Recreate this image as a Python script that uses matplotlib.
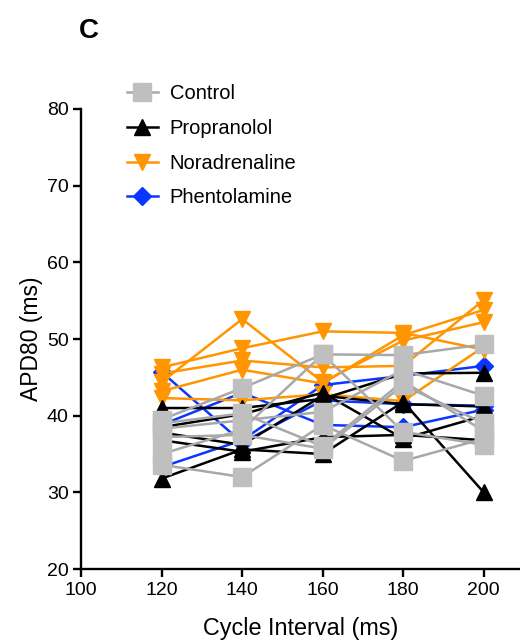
import matplotlib.pyplot as plt

plt.rcParams['font.family'] = ['Liberation Sans', 'DejaVu Sans']

cycle = [120, 140, 160, 180, 200]

# APD80 (ms) per preparation
control = [
    [39.5, 43.6, 48.0, 47.9, 49.3],
    [38.3, 39.4, 40.5, 46.0, 42.6],
    [37.2, 37.5, 35.7, 44.0, 39.0],
    [35.0, 38.2, 48.0, 37.9, 36.2],
    [33.6, 32.0, 38.8, 34.1, 37.0],
    [39.0, 40.3, 36.0, 44.5, 38.0],
]
propranolol = [
    [41.0, 41.0, 42.2, 45.5, 45.6],
    [37.8, 36.2, 42.6, 41.5, 41.2],
    [36.8, 35.3, 37.2, 37.5, 36.8],
    [31.8, 35.6, 35.0, 41.8, 30.0],
    [38.5, 40.2, 43.0, 37.0, 40.0],
]
noradrenaline = [
    [44.4, 52.6, 44.4, 49.8, 52.2],
    [46.3, 48.8, 51.0, 50.8, 48.6],
    [45.5, 47.2, 46.3, 46.5, 55.1],
    [43.2, 46.0, 44.2, 50.5, 53.8],
    [42.3, 42.0, 42.8, 41.9, 49.0],
]
phentolamine = [
    [45.7, 36.5, 42.0, 41.5, 41.3],
    [38.8, 43.0, 38.8, 38.5, 40.8],
    [33.3, 36.8, 44.0, 45.2, 46.5],
]

fig = plt.figure(figsize=(5.2, 6.43), dpi=100)
ax = fig.add_axes([0.156, 0.115, 0.844, 0.7155])

groups = [
    ('Phentolamine', phentolamine, '#0a37ff', '#0a37ff', 'D', 9),
    ('Noradrenaline', noradrenaline, '#ff9500', '#ff9500', 'v', 12),
    ('Propranolol', propranolol, 'black', 'black', '^', 12),
    ('Control', control, '#a8a8a8', '#bfbfbf', 's', 13),
]
handles = {}
for name, data, lc, mc, mk, ms in groups:
    for k, row in enumerate(data):
        ln, = ax.plot(cycle, row, color=lc, lw=1.8, marker=mk, ms=ms,
                      mfc=mc, mec=mc, clip_on=False)
        if k == 0:
            handles[name] = ln

ax.set_xlim(100, 209)
ax.set_ylim(20, 80)
ax.set_xticks([100, 120, 140, 160, 180, 200])
ax.set_yticks([20, 30, 40, 50, 60, 70, 80])
for s in ['top', 'right']:
    ax.spines[s].set_visible(False)
for s in ['left', 'bottom']:
    ax.spines[s].set_linewidth(1.7)
ax.tick_params(width=1.7, length=6, labelsize=14, pad=3)
ax.set_xlabel('Cycle Interval (ms)', fontsize=16.8, labelpad=13)
ax.set_ylabel('APD80 (ms)', fontsize=16.5, labelpad=3)

order = ['Control', 'Propranolol', 'Noradrenaline', 'Phentolamine']
fig.legend([handles[n] for n in order], order, loc='upper left',
           bbox_to_anchor=(0.21, 0.897), frameon=False, fontsize=14.5,
           handlelength=1.5, labelspacing=0.78, handletextpad=0.6)

fig.text(0.152, 0.952, 'C', fontsize=20, fontweight='bold', va='center')

plt.savefig('out.png', dpi=100)
